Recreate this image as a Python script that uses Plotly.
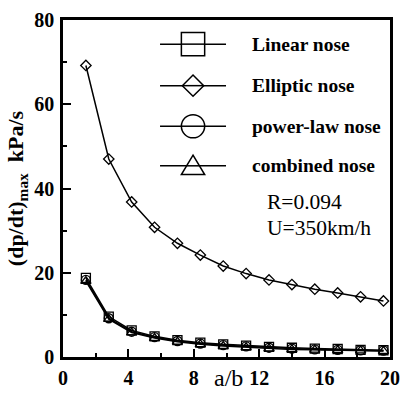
import plotly.graph_objects as go

# a/b ratio of the nose
ab = [1.4, 2.8, 4.2, 5.6, 7.0, 8.4, 9.8, 11.2, 12.6, 14.0, 15.4, 16.8, 18.2, 19.6]

# maximum pressure gradient (dp/dt)max, kPa/s
linear_nose = [18.8, 9.6, 6.3, 4.9, 4.0, 3.4, 3.0, 2.7, 2.4, 2.2, 2.0, 1.9, 1.7, 1.6]
elliptic_nose = [69.2, 47.0, 36.8, 30.8, 27.0, 24.2, 21.6, 19.8, 18.3, 17.2, 16.1, 15.2, 14.3, 13.3]
powerlaw_nose = [18.3, 9.2, 6.0, 4.7, 3.8, 3.2, 2.8, 2.5, 2.2, 2.0, 1.8, 1.7, 1.6, 1.5]
combined_nose = [18.0, 9.0, 5.8, 4.5, 3.6, 3.0, 2.6, 2.3, 2.0, 1.8, 1.7, 1.6, 1.5, 1.4]

x_ticks = [0, 4, 8, 12, 16, 20]
y_ticks = [0, 20, 40, 60, 80]

series = [
    ("Linear nose", linear_nose, "square-open", 9),
    ("Elliptic nose", elliptic_nose, "diamond-open", 8),
    ("power-law nose", powerlaw_nose, "circle-open", 9),
    ("combined nose", combined_nose, "triangle-up-open", 9),
]

SERIF = "Liberation Serif, Times New Roman, serif"
L, T, PW, PH = 63, 20, 337, 349  # plot area placement in pixels


def fx(px):
    return (px - L) / PW


def fy(py):
    return (T + PH - py) / PH


fig = go.Figure()

for name, vals, sym, msize in series:
    fig.add_trace(go.Scatter(
        x=ab, y=vals, mode="lines+markers", name=name, showlegend=False,
        line=dict(color="black", width=1.5),
        marker=dict(symbol=sym, size=msize, color="black", line=dict(width=1.3, color="black")),
    ))

# hand-built legend: line segment, large open symbol, bold label
leg_rows_px = [45, 88, 130, 171]
cx, x0, x1, r = 197, 163, 231, 12
line_style = dict(color="black", width=1.5)
for (name, _, sym, _), py in zip(series, leg_rows_px):
    fig.add_shape(type="line", xref="paper", yref="paper",
                  x0=fx(x0), x1=fx(x1), y0=fy(py), y1=fy(py), line=line_style)
    if sym.startswith("square"):
        fig.add_shape(type="rect", xref="paper", yref="paper", fillcolor="white",
                      x0=fx(cx - r), x1=fx(cx + r), y0=fy(py + r), y1=fy(py - r),
                      line=line_style)
        fig.add_shape(type="line", xref="paper", yref="paper",
                      x0=fx(cx - r), x1=fx(cx + r), y0=fy(py), y1=fy(py), line=line_style)
    elif sym.startswith("circle"):
        fig.add_shape(type="circle", xref="paper", yref="paper", fillcolor="white",
                      x0=fx(cx - r), x1=fx(cx + r), y0=fy(py + r), y1=fy(py - r),
                      line=line_style)
        fig.add_shape(type="line", xref="paper", yref="paper",
                      x0=fx(cx - r), x1=fx(cx + r), y0=fy(py), y1=fy(py), line=line_style)
    elif sym.startswith("diamond"):
        d = 11
        pts = [(cx - d, py), (cx, py - d), (cx + d, py), (cx, py + d)]
        path = "M " + " L ".join(f"{fx(a):.5f},{fy(b):.5f}" for a, b in pts) + " Z"
        fig.add_shape(type="path", xref="paper", yref="paper", path=path,
                      fillcolor="white", line=line_style)
        fig.add_shape(type="line", xref="paper", yref="paper",
                      x0=fx(cx - d), x1=fx(cx + d), y0=fy(py), y1=fy(py), line=line_style)
    else:
        h = 11
        pts = [(cx, py - h), (cx + 12, py + 9), (cx - 12, py + 9)]
        path = "M " + " L ".join(f"{fx(a):.5f},{fy(b):.5f}" for a, b in pts) + " Z"
        fig.add_shape(type="path", xref="paper", yref="paper", path=path,
                      fillcolor="white", line=line_style)
        fig.add_shape(type="line", xref="paper", yref="paper",
                      x0=fx(cx - 7), x1=fx(cx + 7), y0=fy(py), y1=fy(py), line=line_style)
    fig.add_annotation(x=fx(256), y=fy(py), xref="paper", yref="paper", text=name,
                       showarrow=False, xanchor="left", yanchor="middle",
                       font=dict(family=SERIF, size=19.5, color="black", weight="bold"))

fig.add_annotation(x=fx(271), y=fy(208), xref="paper", yref="paper",
                   text="R=0.094", showarrow=False, xanchor="left", yanchor="middle",
                   font=dict(family=SERIF, size=21.5, color="black"))
fig.add_annotation(x=fx(271), y=fy(235), xref="paper", yref="paper",
                   text="U=350km/h", showarrow=False, xanchor="left", yanchor="middle",
                   font=dict(family=SERIF, size=21.5, color="black"))

# x-axis title sits on the tick-label row, between 8 and 12
fig.add_annotation(x=fx(234), y=fy(391), xref="paper", yref="paper",
                   text="a/b", showarrow=False, xanchor="center", yanchor="middle",
                   font=dict(family=SERIF, size=24, color="black"))

axis_common = dict(
    showgrid=False, zeroline=False, showline=True, linecolor="black", linewidth=2.5,
    mirror=True, ticks="inside", ticklen=8, tickwidth=2, tickcolor="black",
    tickfont=dict(family=SERIF, size=20, color="black", weight="bold"),
    minor=dict(ticks="inside", ticklen=4, tickwidth=1.5, tickcolor="black"),
)

fig.update_layout(
    width=412, height=401,
    margin=dict(l=L, r=412 - L - PW, t=T, b=401 - T - PH),
    paper_bgcolor="white", plot_bgcolor="white",
    xaxis=dict(range=[0, 20], tickvals=x_ticks, ticklabelstandoff=1,
               minor_tickvals=[2, 6, 10, 14, 18], **axis_common),
    yaxis=dict(range=[0, 80], tickvals=y_ticks, ticklabelstandoff=2,
               minor_tickvals=[10, 30, 50, 70],
               title=dict(text="(dp/dt)<sub>max</sub>  kPa/s", standoff=5,
                          font=dict(family=SERIF, size=22, color="black", weight="bold")),
               automargin=False, **axis_common),
)

fig.write_html("out.html")
